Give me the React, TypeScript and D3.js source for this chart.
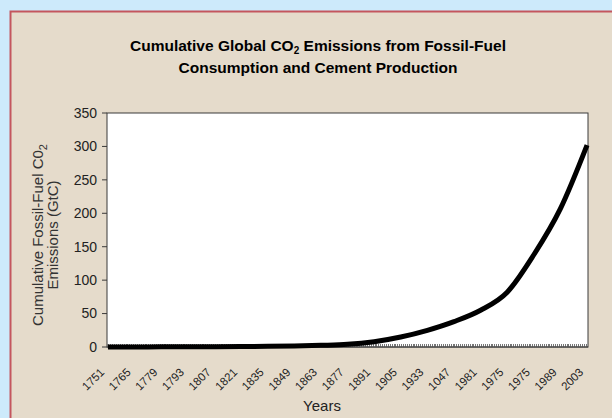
import React from 'react';
import * as d3 from 'd3';

// category axis: one slot per year, labelled every 14th slot
const years = d3.range(1751, 2004);
const tickLabels = [
  '1751', '1765', '1779', '1793', '1807', '1821', '1835', '1849', '1863', '1877',
  '1891', '1905', '1933', '1047', '1981', '1975', '1975', '1989', '2003',
];

// cumulative emissions (GtC)
const sampleYears = [
  1751, 1765, 1779, 1793, 1807, 1821, 1835, 1849, 1863, 1877,
  1891, 1905, 1919, 1933, 1947, 1961, 1975, 1989, 2003,
];
const cumulative = [
  0, 0.1, 0.2, 0.3, 0.5, 0.7, 1, 1.5, 2.5, 4,
  8, 15, 25, 38, 55, 82, 138, 207, 302,
];

const yTicks = [0, 50, 100, 150, 200, 250, 300, 350];

const App = () => {
  const width = 612;
  const height = 418;
  const margin = { top: 113, right: 24, bottom: 71, left: 107 };
  const plotW = width - margin.left - margin.right;
  const plotH = height - margin.top - margin.bottom;

  const xScale = d3.scaleBand<number>()
    .domain(years)
    .range([margin.left, margin.left + plotW]);

  const xPos = (yr: number) => (xScale(yr) ?? 0) + xScale.bandwidth() / 2;

  const yScale = d3.scaleLinear()
    .domain([0, 350])
    .range([margin.top + plotH, margin.top]);

  const points = sampleYears.map((yr, i) => [xPos(yr), yScale(cumulative[i])] as [number, number]);
  const linePath = d3.line().curve(d3.curveMonotoneX)(points) || '';

  const font = 'Arial, "Liberation Sans", Helvetica, sans-serif';
  const axisY = margin.top + plotH;

  return (
    <svg width={width} height={height} style={{ position: 'absolute', left: 0, top: 0 }}>
      <rect x={0} y={0} width={width} height={height} fill="#cdeafb" />
      {/* beige panel with red frame */}
      <rect x={10.5} y={11.5} width={width + 20} height={height + 20} fill="#e5dbcb" stroke="#c4565e" strokeWidth={2} />

      {/* title */}
      <g fontFamily={font} fontWeight="bold" fontSize={15.5} textAnchor="middle" fill="#000">
        <text x={318} y={51}>
          Cumulative Global CO<tspan fontSize={10} dy={3}>2</tspan><tspan dy={-3}> Emissions from Fossil-Fuel</tspan>
        </text>
        <text x={318} y={73}>Consumption and Cement Production</text>
      </g>

      {/* plot area */}
      <rect x={margin.left} y={margin.top} width={plotW} height={plotH} fill="#fff" stroke="#3a3a3a" strokeWidth={1} />

      {/* category ticks along the x axis */}
      <g stroke="#777" strokeWidth={1} shapeRendering="crispEdges">
        {years.map(yr => (
          <line key={yr} x1={xScale(yr)} x2={xScale(yr)} y1={axisY - 3} y2={axisY} />
        ))}
      </g>
      <line x1={margin.left} x2={margin.left + plotW} y1={axisY} y2={axisY} stroke="#3a3a3a" />

      {/* y axis */}
      <g fontFamily={font} fontSize={14} fill="#222">
        {yTicks.map(t => (
          <g key={t}>
            <line x1={margin.left - 5} x2={margin.left} y1={yScale(t)} y2={yScale(t)} stroke="#3a3a3a" />
            <text x={margin.left - 10} y={yScale(t)} dy="0.35em" textAnchor="end">{t}</text>
          </g>
        ))}
      </g>

      {/* y label */}
      <g fontFamily={font} fontSize={15} fill="#333" textAnchor="middle">
        <text transform={`translate(43, ${margin.top + plotH / 2 + 5}) rotate(-90)`}>
          Cumulative Fossil-Fuel C0<tspan fontSize={11} dy={4}>2</tspan>
        </text>
        <text transform={`translate(58, ${margin.top + plotH / 2 + 5}) rotate(-90)`}>Emissions (GtC)</text>
      </g>

      {/* x tick labels */}
      <g fontFamily={font} fontSize={11.5} fill="#222" textAnchor="end">
        {tickLabels.map((lab, i) => {
          const x = xPos(years[i * 14]);
          return (
            <text key={i} transform={`translate(${x - 3}, ${axisY + 26}) rotate(-45)`}>{lab}</text>
          );
        })}
      </g>

      <text x={322} y={411} fontFamily={font} fontSize={15} fill="#222" textAnchor="middle">Years</text>

      {/* emissions curve */}
      <path d={linePath} fill="none" stroke="#000" strokeWidth={5} />
    </svg>
  );
};

export default App;
